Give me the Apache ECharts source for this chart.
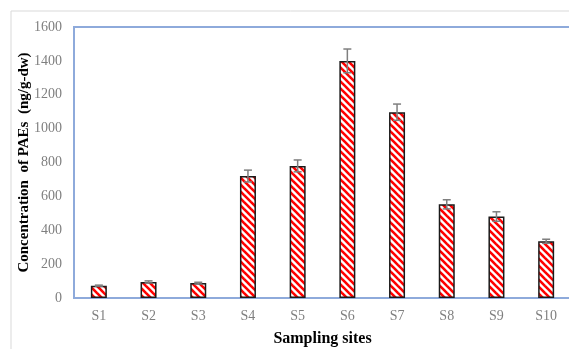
<!DOCTYPE html>
<html>
<head>
<meta charset="utf-8">
<script src="https://cdn.jsdelivr.net/npm/echarts@6/dist/echarts.min.js"></script>
<style>html,body{margin:0;padding:0;background:#fff;}#c{width:569px;height:349px;}</style>
</head>
<body>
<div id="c"></div>
<script>
const categories = ['S1','S2','S3','S4','S5','S6','S7','S8','S9','S10'];
const values = [73, 95, 88, 720, 780, 1400, 1097, 553, 481, 335];
const errors = [3, 6, 5, 35, 35, 70, 48, 27, 28, 12];
const yTicks = [0, 200, 400, 600, 800, 1000, 1200, 1400, 1600];

function makePattern() {
  const s = 7;
  const cv = document.createElement('canvas');
  cv.width = s; cv.height = s;
  const ctx = cv.getContext('2d');
  ctx.fillStyle = '#ffffff';
  ctx.fillRect(0, 0, s, s);
  ctx.strokeStyle = '#ff0000';
  ctx.lineWidth = 2.6;
  for (let k = -1; k <= 1; k++) {
    ctx.beginPath();
    ctx.moveTo(-1, k * s - 1);
    ctx.lineTo(s + 1, s + k * s + 1);
    ctx.stroke();
  }
  return cv;
}

const chart = echarts.init(document.getElementById('c'), null, {renderer: 'canvas'});
const serif = '"Liberation Serif","Times New Roman",serif';
const option = {
  animation: false,
  backgroundColor: '#fff',
  graphic: [{
    type: 'rect', shape: {x: 11, y: 11, width: 700, height: 500},
    style: {fill: 'none', stroke: '#d9d9d9', lineWidth: 1}, z: -10, silent: true
  }],
  grid: {left: 74, right: -2, top: 27, bottom: 51, show: true, borderColor: '#8eaadb', borderWidth: 2,
    containLabel: false, outerBoundsMode: 'none'},
  xAxis: {
    type: 'category', data: categories,
    name: 'Sampling sites', nameLocation: 'middle', nameGap: 33, nameMoveOverlap: false,
    nameTextStyle: {fontFamily: serif, fontWeight: 'bold', fontSize: 16, color: '#000'},
    axisLine: {show: true, lineStyle: {color: '#8eaadb', width: 2}},
    axisTick: {show: false},
    axisLabel: {fontFamily: serif, fontSize: 14, color: '#7f7f7f', margin: 11}
  },
  yAxis: {
    type: 'value', min: 0, max: 1600, interval: 200,
    name: 'Concentration  of PAEs  (ng/g-dw)', nameLocation: 'middle', nameGap: 42, nameMoveOverlap: false,
    nameTextStyle: {fontFamily: serif, fontWeight: 'bold', fontSize: 15, color: '#000'},
    axisLine: {show: true, lineStyle: {color: '#8eaadb', width: 2}},
    axisTick: {show: false},
    splitLine: {show: false},
    axisLabel: {fontFamily: serif, fontSize: 14, color: '#7f7f7f', margin: 12,
      formatter: v => yTicks.includes(v) ? String(v) : ''}
  },
  series: [{
    type: 'bar', data: values, barWidth: 16,
    itemStyle: {color: {image: makePattern(), repeat: 'repeat'}, borderColor: '#1a1a1a', borderWidth: 1.5},
    z: 2
  }, {
    type: 'custom', z: 3,
    data: values.map((v, i) => [i, v, errors[i]]),
    renderItem: function (params, api) {
      const i = api.value(0), v = api.value(1), e = api.value(2);
      const top = api.coord([i, v + e]);
      const bot = api.coord([i, v - e]);
      const hw = 4;
      const st = {stroke: '#7f7f7f', lineWidth: 1.5};
      return {type: 'group', children: [
        {type: 'line', shape: {x1: top[0], y1: top[1], x2: bot[0], y2: bot[1]}, style: st},
        {type: 'line', shape: {x1: top[0]-hw, y1: top[1], x2: top[0]+hw, y2: top[1]}, style: st},
        {type: 'line', shape: {x1: bot[0]-hw, y1: bot[1], x2: bot[0]+hw, y2: bot[1]}, style: st}
      ]};
    }
  }]
};
chart.setOption(option);
</script>
</body>
</html>
